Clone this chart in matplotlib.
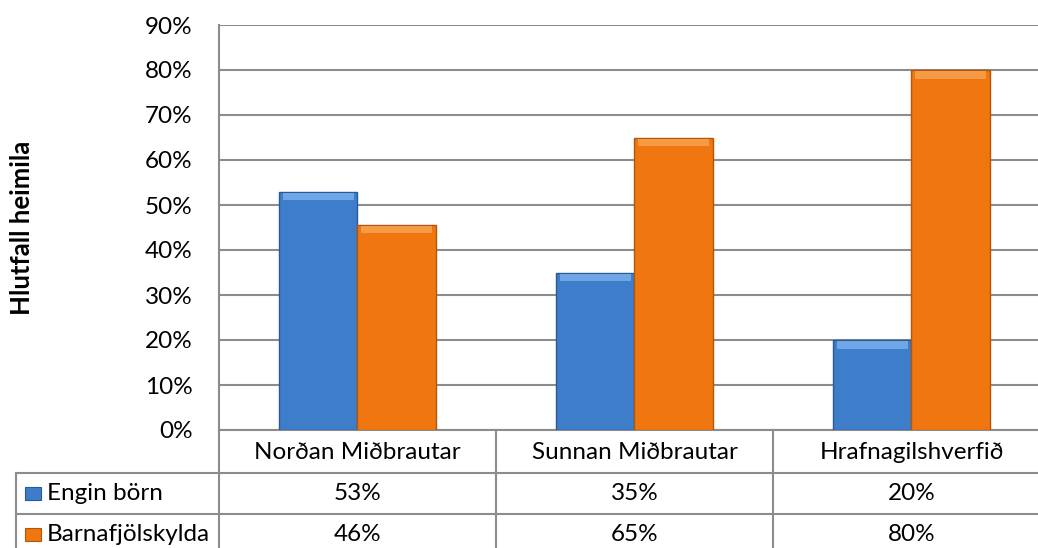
import matplotlib
matplotlib.use("Agg")
import matplotlib.pyplot as plt
import numpy as np

plt.rcParams['font.family'] = ['Lato', 'DejaVu Sans']

categories = ['Norðan Miðbrautar', 'Sunnan Miðbrautar', 'Hrafnagilshverfið']
series_names = ['Engin börn', 'Barnafjölskylda']
engin_born = [0.53, 0.35, 0.20]
barnafjolskylda = [0.456, 0.65, 0.80]
y_label = 'Hlutfall heimila'

W, H = 1038, 548
colors = ['#3E7DCA', '#F0760F']
edges = ['#2A5A94', '#B4560A']
tops = ['#6FA6E6', '#F69A45']
grid_col = '#8C8C8C'
fs = 17.5

fig = plt.figure(figsize=(W / 100, H / 100), dpi=100)

# main plot area (right edge runs past the image, like the cropped original)
px_unit = 277.0
left, right, top, bottom = 219, 219 + 3 * px_unit, 25, 430
ax = fig.add_axes([left / W, (H - bottom) / H, (right - left) / W, (bottom - top) / H])
ax.set_xlim(-0.5, 2.5)
ax.set_ylim(0, 0.9)

x = np.arange(len(categories))
w = 0.285
for i, vals in enumerate([engin_born, barnafjolskylda]):
    xs = x + (i - 0.5) * w
    ax.bar(xs, vals, width=w, color=colors[i], edgecolor=edges[i], linewidth=1.0, zorder=3)
    # light bevel along the top of each bar
    ax.bar(xs, [0.016] * len(vals), bottom=np.array(vals) - 0.019, width=w * 0.9,
           color=tops[i], linewidth=0, zorder=4)

ticks = np.arange(0, 0.91, 0.1)
ax.set_yticks(ticks)
ax.set_yticklabels([f'{int(round(v * 100))}%' for v in ticks], fontsize=fs)
ax.tick_params(axis='y', length=0, pad=19)
ax.set_xticks([])
ax.grid(axis='y', color=grid_col, linewidth=1.5, zorder=0)
for s in ['top', 'right']:
    ax.spines[s].set_visible(False)
for s in ['left', 'bottom']:
    ax.spines[s].set_color(grid_col)
    ax.spines[s].set_linewidth(1.5)

fig.text(22 / W, 1 - 228 / H, y_label, rotation=90, ha='center', va='center',
         fontsize=18.5, fontweight='bold')

# data table under the plot
t_left = 16
t_top = 432
row_h = 41
tax = fig.add_axes([t_left / W, (H - (t_top + 3 * row_h)) / H, (right - t_left) / W, 3 * row_h / H])
x0 = -0.5 - (left - t_left) / px_unit
tax.set_xlim(x0, 2.5)
tax.set_ylim(3, 0)
tax.axis('off')

lc = dict(color=grid_col, linewidth=1.5, clip_on=False)
for r in [1, 2, 3]:
    tax.plot([x0, 2.5], [r, r], **lc)
tax.plot([x0, x0], [1, 3], **lc)
for b in [-0.5, 0.5, 1.5]:
    tax.plot([b, b], [0, 3], **lc)

for j, c in enumerate(categories):
    tax.text(j, 0.5, c, ha='center', va='center', fontsize=fs)
for i, vals in enumerate([engin_born, barnafjolskylda]):
    for j, v in enumerate(vals):
        tax.text(j, 1.5 + i, f'{int(round(v * 100))}%', ha='center', va='center', fontsize=fs)
    kx = x0 + 9 / px_unit
    tax.add_patch(plt.Rectangle((kx, 1.5 + i - 0.17), 16 / px_unit, 0.34,
                                facecolor=colors[i], edgecolor=edges[i], linewidth=0.8))
    tax.text(x0 + 31 / px_unit, 1.5 + i, series_names[i], ha='left', va='center', fontsize=fs)

fig.savefig('out.png', dpi=100)
